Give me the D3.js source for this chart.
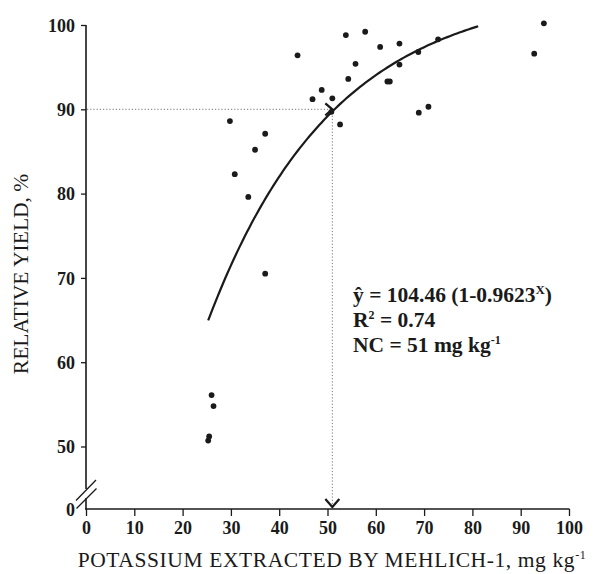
<!DOCTYPE html>
<html lang="en">
<head>
  <meta charset="UTF-8">
  <title>Relative yield vs potassium</title>
  <style>
    * {
      margin: 0;
      padding: 0;
    }

    body {
      background-color: #fff;
    }

    svg {
      display: block;
      font-family: 'Liberation Serif', 'Times New Roman', serif;
    }

    .tick-label {
      font-size: 18px;
      font-weight: bold;
      fill: #1a1a1a;
    }

    .axis-title {
      font-size: 21.5px;
      fill: #1a1a1a;
    }

    .eq {
      font-size: 21.5px;
      font-weight: bold;
      fill: #1a1a1a;
    }
  </style>
</head>
<body>
  <div class='visHolder'></div>

  <script src='https://cdnjs.cloudflare.com/ajax/libs/d3/7.8.5/d3.min.js'></script>
  <script>
    // data
    var potassium = [25.3, 25.5, 26.0, 26.4, 29.8, 30.8, 33.6, 35.0, 37.1, 37.1,
      43.8, 46.9, 48.8, 51.0, 50.8, 52.6, 53.8, 54.3, 55.8, 57.8,
      60.9, 62.4, 62.9, 64.9, 64.9, 68.8, 68.9, 70.9, 72.9, 92.8, 94.8];
    var relYield = [50.7, 51.2, 56.1, 54.8, 88.6, 82.3, 79.6, 85.2, 87.1, 70.5,
      96.4, 91.2, 92.3, 91.3, 89.7, 88.2, 98.8, 93.6, 95.4, 99.2,
      97.4, 93.3, 93.3, 97.8, 95.3, 96.8, 89.6, 90.3, 98.3, 96.6, 100.2];
    var xTicks = [0, 10, 20, 30, 40, 50, 60, 70, 80, 90, 100];
    var yTicks = [0, 50, 60, 70, 80, 90, 100];

    // fitted model y = a (1 - b^x)
    var fitA = 104.46,
      fitB = 0.9623,
      fitFrom = 25.3,
      fitTo = 81.2;
    var critLevel = 90,
      critK = 51;

    var width = 599,
      height = 574;
    var padLeft = 86,
      padRight = 569,
      padTop = 25,
      padBottom = 509;

    var svg = d3.select('.visHolder').append('svg').
    attr('width', width).
    attr('height', height);

    var xScale = d3.scaleLinear().
    domain([0, 100]).
    range([padLeft, padRight]);

    // broken axis: 0 sits just under the 50..100 part
    var yScale = d3.scaleLinear().
    domain([0, 50, 100]).
    range([padBottom, 446.5, padTop]);

    // x axis
    var xAxis = d3.axisBottom(xScale).
    tickValues(xTicks).
    tickSize(7).
    tickFormat(d3.format('d'));
    var xAxisGroup = svg.append('g').
    attr('transform', 'translate(0,' + padBottom + ')').
    call(xAxis).
    attr('font-family', null).
    attr('font-size', null);
    xAxisGroup.select('.domain').
    attr('d', 'M' + (padLeft - 1) + ',0H' + (padRight + 0.5)).
    attr('stroke', '#1a1a1a').
    attr('stroke-width', 1.6);
    xAxisGroup.selectAll('.tick line').
    attr('stroke', '#1a1a1a').
    attr('stroke-width', 1.3);
    xAxisGroup.selectAll('.tick text').
    attr('class', 'tick-label').
    attr('y', 12);

    // y axis
    var yAxis = d3.axisLeft(yScale).
    tickValues(yTicks).
    tickSize(5).
    tickFormat(d3.format('d'));
    var yAxisGroup = svg.append('g').
    attr('transform', 'translate(' + padLeft + ',0)').
    call(yAxis).
    attr('font-family', null).
    attr('font-size', null);
    yAxisGroup.select('.domain').remove();
    yAxisGroup.selectAll('.tick line').
    attr('stroke', '#1a1a1a').
    attr('stroke-width', 1.3);
    yAxisGroup.selectAll('.tick text').
    attr('class', 'tick-label').
    attr('x', -11).
    attr('dy', '0.34em');
    yAxisGroup.selectAll('.tick').filter(function(d) {
      return d === 0;
    }).select('line').remove();

    // y axis line with the break
    svg.append('path').
    attr('d', 'M' + padLeft + ',' + padTop + 'V489 M' + padLeft + ',498V' + padBottom).
    attr('stroke', '#1a1a1a').
    attr('stroke-width', 1.6).
    attr('fill', 'none');
    svg.append('path').
    attr('d', 'M76,500.5L96,480 M76.5,508.5L96.5,488.5').
    attr('stroke', '#1a1a1a').
    attr('stroke-width', 1.3).
    attr('fill', 'none');

    // dotted guides for the critical level
    svg.append('line').
    attr('x1', xScale(0) + 1).
    attr('x2', xScale(critK)).
    attr('y1', yScale(critLevel)).
    attr('y2', yScale(critLevel)).
    attr('stroke', '#777').
    attr('stroke-width', 1).
    attr('stroke-dasharray', '1.2,2');
    svg.append('line').
    attr('x1', xScale(critK)).
    attr('x2', xScale(critK)).
    attr('y1', yScale(critLevel)).
    attr('y2', padBottom - 2).
    attr('stroke', '#777').
    attr('stroke-width', 1).
    attr('stroke-dasharray', '1.2,2');

    // arrow heads
    var ax = xScale(critK),
      ay = yScale(critLevel);
    svg.append('path').
    attr('d', 'M' + (ax - 7) + ',' + (ay - 6) + 'L' + ax + ',' + ay + 'L' + (ax - 7) + ',' + (ay + 6)).
    attr('stroke', '#1a1a1a').
    attr('stroke-width', 2.2).
    attr('fill', 'none');
    svg.append('path').
    attr('d', 'M' + (ax - 7) + ',' + (padBottom - 10) + 'L' + ax + ',' + (padBottom - 2) + 'L' + (ax + 7) + ',' + (padBottom - 10)).
    attr('stroke', '#1a1a1a').
    attr('stroke-width', 2.2).
    attr('fill', 'none');

    // fitted curve
    var curveX = d3.range(fitFrom, fitTo, 0.5).concat([fitTo]);
    var line = d3.line().
    x(function(d) {
      return xScale(d);
    }).
    y(function(d) {
      return yScale(fitA * (1 - Math.pow(fitB, d)));
    });
    svg.append('path').
    datum(curveX).
    attr('d', line).
    attr('fill', 'none').
    attr('stroke', '#1a1a1a').
    attr('stroke-width', 2.2);

    // observations
    svg.selectAll('circle').
    data(potassium).
    enter().
    append('circle').
    attr('cx', function(d) {
      return xScale(d);
    }).
    attr('cy', function(d, i) {
      return yScale(relYield[i]);
    }).
    attr('r', 2.9).
    attr('fill', '#1a1a1a');

    // axis titles
    svg.append('text').
    attr('class', 'axis-title').
    attr('transform', 'translate(28,274) rotate(-90)').
    attr('text-anchor', 'middle').
    text('RELATIVE YIELD, %');

    var xTitle = svg.append('text').
    attr('class', 'axis-title').
    attr('x', 332).
    attr('y', 567).
    attr('text-anchor', 'middle').
    style('letter-spacing', '0.6px');
    xTitle.append('tspan').text('POTASSIUM EXTRACTED BY MEHLICH-1, mg kg');
    xTitle.append('tspan').attr('dy', -8).attr('font-size', 12).text('-1');

    // equation block
    var eqX = 353;
    var eq1 = svg.append('text').attr('class', 'eq').attr('x', eqX).attr('y', 302);
    eq1.append('tspan').text('\u0177 = 104.46 (1-0.9623');
    eq1.append('tspan').attr('dy', -8).attr('font-size', 13).text('X');
    eq1.append('tspan').attr('dy', 8).text(')');

    var eq2 = svg.append('text').attr('class', 'eq').attr('x', eqX).attr('y', 327);
    eq2.append('tspan').text('R');
    eq2.append('tspan').attr('dy', -8).attr('font-size', 12).text('2');
    eq2.append('tspan').attr('dy', 8).text(' = 0.74');

    var eq3 = svg.append('text').attr('class', 'eq').attr('x', eqX).attr('y', 352);
    eq3.append('tspan').text('NC = 51 mg kg');
    eq3.append('tspan').attr('dy', -8).attr('font-size', 12).text('-1');
  </script>
</body>
</html>
